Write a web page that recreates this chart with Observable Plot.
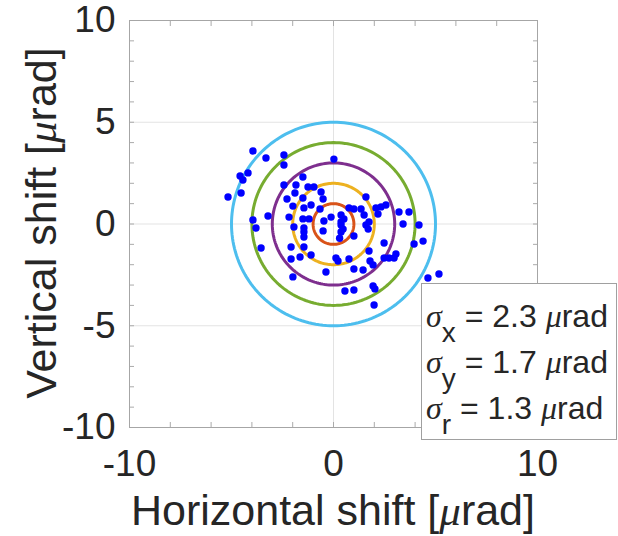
<!DOCTYPE html>
<html>
<head>
<meta charset="utf-8">
<script src="https://cdn.jsdelivr.net/npm/d3@7"></script>
<script src="https://cdn.jsdelivr.net/npm/@observablehq/plot@0.6"></script>
<style>
  body { margin: 0; background: #fff; }
  #wrap { position: relative; width: 618px; height: 536px; }
  #legend {
    position: absolute; left: 421px; top: 283px; width: 196px; height: 157px;
    border: 1px solid #a0a0a0; background: #fff; box-sizing: border-box;
    font-family: "Liberation Sans", Arial, sans-serif; font-size: 32px; color: #262626;
  }
  #legend .row { position: absolute; left: 4px; white-space: nowrap; }
  #legend .g { font-family: "Liberation Serif", "DejaVu Serif", serif; font-style: italic; }
  #legend sub { font-size: 28px; vertical-align: -15px; line-height: 0; font-style: normal; }
</style>
</head>
<body>
<div id="wrap"><div id="chart"></div><div id="legend"></div></div>
<script>
// Scatter points (horizontal, vertical shift in µrad)
const xs = [-5.17,-4.58,-4.44,-4.19,-4.53,-3.95,-3.31,-2.43,-2.43,0.02,-3.21,-3.95,-3.80,-3.55,
  -1.50,-2.43,-1.84,-1.25,-0.96,-1.89,-0.61,-2.28,-1.50,-0.51,-1.99,-1.45,-1.10,-0.66,-2.18,-1.50,
  -1.20,-0.47,-0.12,0.37,0.37,-1.94,-1.45,-1.45,-1.45,-0.51,0.37,0.37,-2.08,-1.45,-1.64,-2.08,-1.10,
  0.12,0.22,-0.37,-1.99,1.59,0.76,1.00,1.35,1.50,1.74,1.59,2.33,2.57,2.18,3.21,3.41,3.70,0.51,0.47,
  1.00,0.76,1.74,1.79,1.94,1.00,1.45,2.48,2.48,2.72,2.97,3.06,4.19,3.95,4.39,4.63,5.17,0.56,1.00,
  1.94,2.03,1.99,2.08,1.70,0.30];
const ys = [1.33,2.36,2.16,2.51,1.52,3.59,3.24,3.39,2.90,3.19,0.39,0.20,-0.20,-1.18,
  2.31,1.92,1.92,1.82,1.82,1.52,1.57,1.23,1.28,1.23,0.88,0.79,0.93,0.74,0.34,0.25,
  0.25,0.15,0.34,0.44,0.10,-0.15,-0.20,-0.39,-0.64,-0.34,-0.05,-0.39,-1.13,-1.13,-1.62,-1.72,-1.52,
  -1.67,-1.82,-2.36,-2.60,1.33,0.79,0.74,0.74,0.44,0.10,-0.05,0.84,0.93,0.49,0.59,0.00,0.59,0.25,-0.25,
  -0.59,-1.72,-1.33,-1.82,-2.01,-2.21,-2.26,-0.93,-1.67,-1.67,-1.67,-1.47,-0.05,-0.98,-0.84,-2.65,-2.46,-3.29,-3.24,
  -3.05,-3.19,-3.98,0.79,-0.25,-0.70];

// Reference circles
const radii = [1, 2, 3, 4, 5];
const circleColors = ["#D95319", "#EDB120", "#7E2F8E", "#77AC30", "#4DBEEE"];

// Axes
const xTicks = [-10, 0, 10];
const yTicks = [-10, -5, 0, 5, 10];
const xMinor = [-8, -6, -4, -2, 0, 2, 4, 6, 8];
const yMinor = [-9,-8,-7,-6,-5,-4,-3,-2,-1,0,1,2,3,4,5,6,7,8,9];
const xLabelParts = ["Horizontal shift [", "\u03bc", "rad]"];
const yLabelParts = ["Vertical shift [", "\u03bc", "rad]"];

// Legend
const sigmaSubs = ["x", "y", "r"];
const sigmaVals = [2.3, 1.7, 1.3];
const sigmaUnit = "rad";

const points = xs.map((x, i) => ({x, y: ys[i]}));
const circlePts = [];
radii.forEach((r, k) => {
  for (let a = 0; a <= 360; a += 2) {
    const t = a * Math.PI / 180;
    circlePts.push({k, x: r * Math.cos(t), y: r * Math.sin(t)});
  }
});

const chart = Plot.plot({
  width: 618, height: 536,
  marginLeft: 129, marginRight: 81, marginTop: 20, marginBottom: 109,
  x: {domain: [-10, 10]},
  y: {domain: [-10, 10]},
  style: {fontFamily: "'Liberation Sans', Arial, sans-serif", fontSize: "37px", color: "#262626", background: "white", overflow: "visible"},
  marks: [
    Plot.gridX({ticks: [0], stroke: "#e3e3e3", strokeOpacity: 1}),
    Plot.gridY({ticks: [-5, 0, 5], stroke: "#e3e3e3", strokeOpacity: 1}),
    Plot.axisX({anchor: "bottom", ticks: xMinor, tickSize: -5, tickFormat: () => "", stroke: "#aaa", label: null}),
    Plot.axisX({anchor: "top", ticks: xMinor, tickSize: -5, tickFormat: () => "", stroke: "#aaa", label: null}),
    Plot.axisY({anchor: "left", ticks: yMinor, tickSize: -5, tickFormat: () => "", stroke: "#aaa", label: null}),
    Plot.axisY({anchor: "right", ticks: yMinor, tickSize: -5, tickFormat: () => "", stroke: "#aaa", label: null}),
    Plot.axisX({anchor: "bottom", ticks: xTicks, tickSize: 0, tickPadding: 22, tickFormat: d => String(d), label: null, fill: "#262626"}),
    Plot.axisY({anchor: "left", ticks: yTicks, tickSize: 0, tickPadding: 14, tickFormat: d => String(d), label: null, fill: "#262626"}),
    Plot.frame({stroke: "#a6a6a6"}),
    ...radii.map((r, k) => Plot.line(circlePts.filter(d => d.k === k), {x: "x", y: "y", stroke: circleColors[k], strokeWidth: 3})),
    Plot.dot(points, {x: "x", y: "y", r: 3.7, fill: "#0000ff", stroke: "none"})
  ]
});
document.getElementById("chart").appendChild(chart);

// Axis titles as SVG text with italic µ (TeX style)
const svg = d3.select(chart);
function addTitle(parts, x, y, rotate) {
  const t = svg.append("text")
    .attr("transform", `translate(${x},${y}) rotate(${rotate})`)
    .attr("text-anchor", "middle")
    .attr("fill", "#262626")
    .attr("font-size", 43)
    .attr("font-family", "'Liberation Sans', Arial, sans-serif");
  t.append("tspan").text(parts[0]);
  t.append("tspan").attr("font-family", "'Liberation Serif', 'DejaVu Serif', serif").attr("font-style", "italic").text(parts[1]);
  t.append("tspan").text(parts[2]);
}
addTitle(xLabelParts, 333, 525, 0);
addTitle(yLabelParts, 56, 223, -90);

const legend = document.getElementById("legend");
sigmaSubs.forEach((s, i) => {
  const row = document.createElement("div");
  row.className = "row";
  row.style.top = (14 + i * 46) + "px";
  row.innerHTML = `<span class="g">\u03c3</span><sub>${s}</sub> = ${sigmaVals[i].toFixed(1)} <span class="g">\u03bc</span>${sigmaUnit}`;
  legend.appendChild(row);
});
</script>
</body>
</html>
